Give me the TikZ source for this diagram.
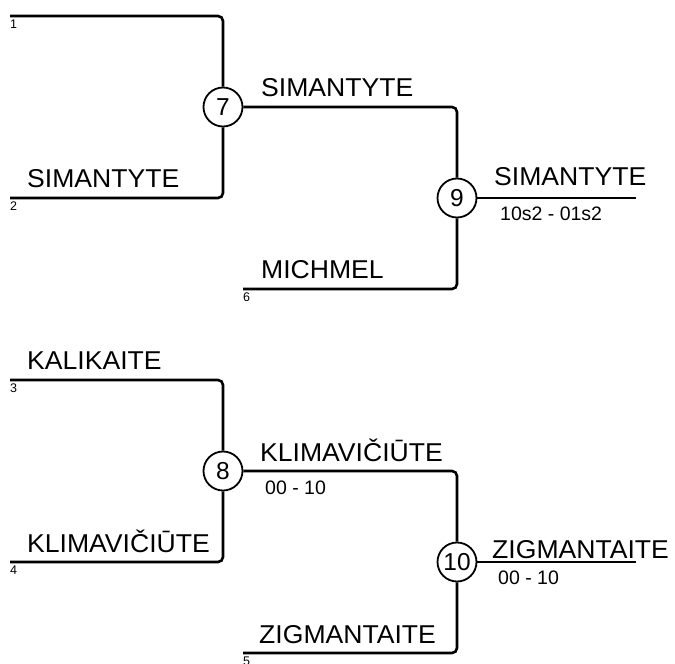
\documentclass[tikz,border=0pt]{standalone}
\usepackage{fontspec}
\setmainfont{Liberation Sans}
\newcommand\bigtxt[1]{\scalebox{1.03}[1]{\fontsize{25.8}{30}\selectfont #1}}
\begin{document}
\begin{tikzpicture}[x=1pt,y=-1pt,
  bline/.style={line width=2.6pt,rounded corners=5pt},
  fline/.style={line width=2pt},
  mnode/.style={circle,draw,line width=1.8pt,fill=white,minimum size=39pt,inner sep=0pt,font=\fontsize{24.5}{28}\selectfont},
  pname/.style={anchor=base west,inner sep=0pt},
  pscore/.style={anchor=base west,inner sep=0pt,font=\fontsize{19.5}{22}\selectfont},
  pseed/.style={anchor=north west,inner sep=0pt,font=\fontsize{12.5}{14}\selectfont}]
\useasboundingbox (0,0) rectangle (675,664);
% coordinates
\coordinate (s1) at (10,16);
\coordinate (s2) at (10,198);
\coordinate (s6) at (243,289);
\coordinate (s3) at (10,380);
\coordinate (s4) at (10,562);
\coordinate (s5) at (243,653);
\coordinate (f9) at (636,198);
\coordinate (f10) at (636,562);
% match nodes
\node[mnode] (m7) at (223,107) {7};
\node[mnode] (m9) at (457,198) {9};
\node[mnode] (m8) at (223,471) {8};
\node[mnode] (m10) at (457,562) {10};
% connectors
\draw[bline] (s1) -| (m7);
\draw[bline] (s2) -| (m7);
\draw[bline] (m7) -| (m9);
\draw[bline] (s6) -| (m9);
\draw[fline] (m9) -- (f9);
\draw[bline] (s3) -| (m8);
\draw[bline] (s4) -| (m8);
\draw[bline] (m8) -| (m10);
\draw[bline] (s5) -| (m10);
\draw[fline] (m10) -- (f10);
% seeds
\node[pseed] (n1) at (10,19.5) {1};
\node[pseed] (n2) at (10,201.5) {2};
\node[pseed] (n6) at (243,292.5) {6};
\node[pseed] (n3) at (10,383.5) {3};
\node[pseed] (n4) at (10,565.5) {4};
\node[pseed] (n5) at (243,656.5) {5};
% names
\node[pname] (t2) at (27,187) {\bigtxt{SIMANTYTE}};
\node[pname] (t7) at (261,96) {\bigtxt{SIMANTYTE}};
\node[pname] (t6) at (261,278) {\bigtxt{MICHMEL}};
\node[pname] (t9) at (494,185) {\bigtxt{SIMANTYTE}};
\node[pscore] (c9) at (500,220) {10s2 - 01s2};
\node[pname] (t3) at (27,369) {\bigtxt{KALIKAITE}};
\node[pname] (t4) at (27,552) {\bigtxt{KLIMAVIČIŪTE}};
\node[pname] (t8) at (260,461) {\bigtxt{KLIMAVIČIŪTE}};
\node[pscore] (c8) at (265,494) {00 - 10};
\node[pname] (t10) at (492,558) {\bigtxt{ZIGMANTAITE}};
\node[pscore] (c10) at (498,584) {00 - 10};
\node[pname] (t5) at (259,643) {\bigtxt{ZIGMANTAITE}};
\end{tikzpicture}
\end{document}
